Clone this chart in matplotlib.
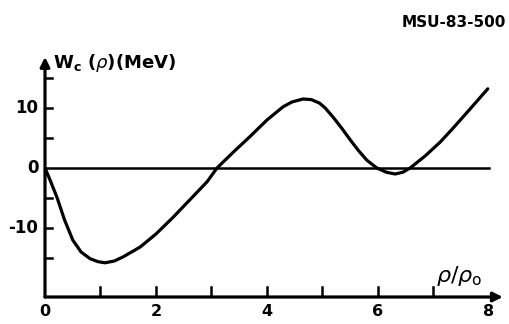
import matplotlib
matplotlib.use("Agg")
import matplotlib.pyplot as plt

# W_c(rho)
rho = [0.0, 0.1, 0.22, 0.35, 0.5, 0.65, 0.81, 0.95, 1.08, 1.25, 1.41, 1.71,
       2.0, 2.31, 2.6, 2.92, 3.1, 3.4, 3.69, 4.0, 4.29, 4.45, 4.65, 4.8,
       4.95, 5.05, 5.19, 5.35, 5.5, 5.65, 5.8, 5.98, 6.15, 6.31, 6.45,
       6.58, 6.85, 7.12, 7.35, 7.6, 7.98]
wc = [0.0, -2.2, -5.0, -8.6, -12.0, -14.0, -15.1, -15.6, -15.8, -15.5,
      -14.8, -13.2, -11.0, -8.2, -5.4, -2.3, 0.0, 2.7, 5.2, 8.0, 10.2, 11.0,
      11.5, 11.4, 10.8, 10.0, 8.5, 6.6, 4.7, 2.9, 1.3, 0.0, -0.7, -1.0,
      -0.7, 0.0, 2.0, 4.3, 6.6, 9.2, 13.2]

xticks = [1, 2, 3, 4, 5, 6, 7]
xlabels = ["0", "2", "4", "6", "8"]
xlabel_pos = [0, 2, 4, 6, 8]
yticks = [-15, -10, -5, 5, 10, 15]
ylabel_pos = [-10, 0, 10]
ylabels = ["-10", "0", "10"]

fig = plt.figure(figsize=(5.09, 3.24), dpi=100)
ax = fig.add_axes([45 / 509, 27 / 324, 455 / 509, 237 / 324])
ax.set_xlim(0, 8.2)
ax.set_ylim(-21.5, 18)
ax.axis("off")

lw = 2.3
# axes with arrows
ax.annotate("", xy=(8.25, -21.5), xytext=(0, -21.5),
            arrowprops=dict(arrowstyle="-|>", lw=lw, color="black",
                            mutation_scale=14, shrinkA=0, shrinkB=0),
            annotation_clip=False)
ax.annotate("", xy=(0, 18.5), xytext=(0, -21.5),
            arrowprops=dict(arrowstyle="-|>", lw=lw, color="black",
                            mutation_scale=14, shrinkA=0, shrinkB=0),
            annotation_clip=False)

# tick marks
for t in xticks:
    ax.plot([t, t], [-21.5, -19.8], color="black", lw=1.8)
for t in yticks:
    ax.plot([0, 0.13], [t, t], color="black", lw=1.8)

# zero line and curve
ax.plot([0, 8], [0, 0], color="black", lw=1.8)
ax.plot(rho, wc, color="black", lw=2.3, solid_capstyle="round",
        solid_joinstyle="round")

for p, s in zip(xlabel_pos, xlabels):
    ax.text(p, -22.6, s, ha="center", va="top", fontsize=11.5,
            fontweight="bold")
for p, s in zip(ylabel_pos, ylabels):
    ax.text(-0.12, p, s, ha="right", va="center", fontsize=12,
            fontweight="bold")

ax.text(0.15, 17.5, r"W$_\mathregular{c}$ ($\rho$)(MeV)", ha="left",
        va="center", fontsize=13, fontweight="bold")
ax.text(7.05, -18.0, r"$\rho$/$\rho_\mathregular{o}$", ha="left",
        va="center", fontsize=16)
fig.text(0.995, 0.93, "MSU-83-500", ha="right", va="center",
         fontsize=11, fontweight="bold")

fig.savefig("out.png", dpi=100)
